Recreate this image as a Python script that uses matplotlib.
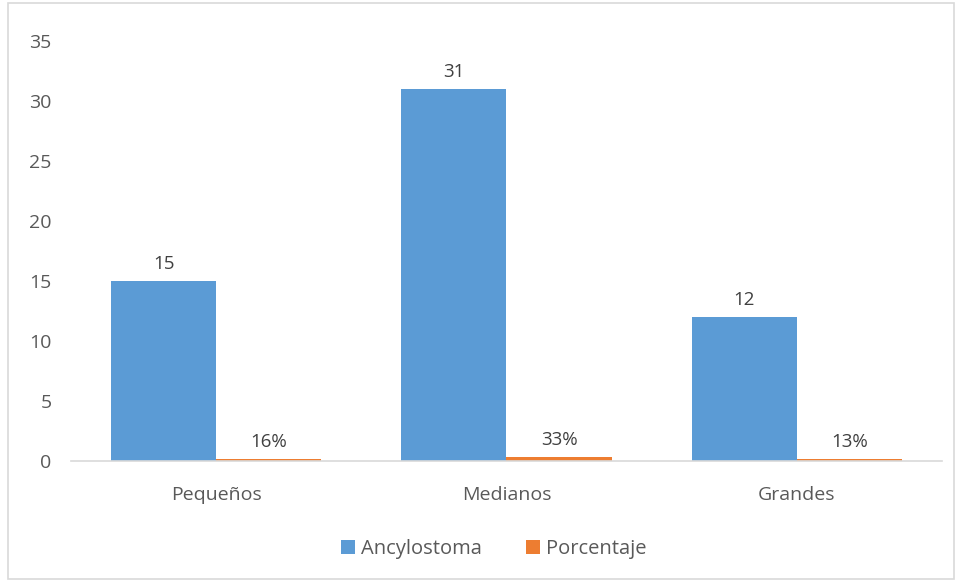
import matplotlib.pyplot as plt
import numpy as np
from matplotlib.patches import Rectangle

categorias = ['Pequeños', 'Medianos', 'Grandes']
ancylostoma = [15, 31, 12]
porcentaje = [0.16, 0.33, 0.13]
etiquetas_pct = ['16%', '33%', '13%']

plt.rcParams['font.family'] = ['Open Sans', 'DejaVu Sans']
gris = '#595959'

fig = plt.figure(figsize=(9.58, 5.81), dpi=100)
ax = fig.add_axes([71/958, 120/581, 871/958, 420/581])

x = np.arange(len(categorias))
w = 0.362
b1 = ax.bar(x - w/2, ancylostoma, w, color='#5B9BD5', label='Ancylostoma')
b2 = ax.bar(x + w/2, porcentaje, w, color='#ED7D31', label='Porcentaje')

for rect, v in zip(b1, ancylostoma):
    ax.annotate(str(v), (rect.get_x() + rect.get_width()/2, rect.get_height()),
                xytext=(0, 6), textcoords='offset points', ha='center', va='bottom',
                fontsize=13.5, color='#404040')
for rect, t in zip(b2, etiquetas_pct):
    ax.annotate(t, (rect.get_x() + rect.get_width()/2, rect.get_height()),
                xytext=(0, 6), textcoords='offset points', ha='center', va='bottom',
                fontsize=13.5, color='#404040')

ax.set_xlim(-0.5, 2.5)
ax.set_ylim(0, 35)
ax.set_yticks(range(0, 36, 5))
ax.set_xticks(x)
ax.set_xticklabels(categorias)
ax.tick_params(axis='both', length=0, labelsize=14, labelcolor=gris)
ax.tick_params(axis='y', pad=14)
ax.tick_params(axis='x', pad=18)
for s in ['top', 'right', 'left']:
    ax.spines[s].set_visible(False)
ax.spines['bottom'].set_color('#D9D9D9')
ax.spines['bottom'].set_linewidth(1.2)

leg = fig.legend(loc='center', bbox_to_anchor=(494/958, 1 - 549/581), ncol=2, frameon=False,
                 fontsize=14.5, handlelength=0.7, handleheight=0.7, handletextpad=0.3,
                 columnspacing=2.2)
for t in leg.get_texts():
    t.set_color(gris)

fig.patches.append(Rectangle((8/958, 2/581), 946/958, 576/581, transform=fig.transFigure,
                             fill=False, edgecolor='#D9D9D9', linewidth=1.2))

plt.savefig('out.png', dpi=100)
